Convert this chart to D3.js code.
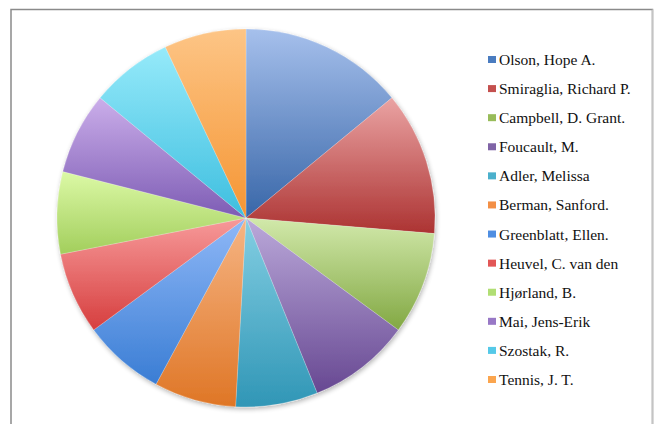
<!DOCTYPE html>
<html>
<head>
<meta charset="utf-8">
<script src="https://cdn.jsdelivr.net/npm/d3@7"></script>
<style>
  body { margin: 0; background: #fff; }
  svg { display: block; }
  .key text { font-family: "Liberation Serif", "Times New Roman", serif; }
</style>
</head>
<body>
<div class="chart"></div>
<script>
// data
var authors = ["Olson, Hope A.", "Smiraglia, Richard P.", "Campbell, D. Grant.", "Foucault, M.",
               "Adler, Melissa", "Berman, Sanford.", "Greenblatt, Ellen.", "Heuvel, C. van den",
               "Hjørland, B.", "Mai, Jens-Erik", "Szostak, R.", "Tennis, J. T."];
var counts = [8, 7, 5, 5, 4, 4, 4, 4, 4, 4, 4, 4];

// light (top) and dark (bottom) shade for each slice
var lightShades = ["#a6c0ec", "#eaa3a3", "#d2e9ab", "#bba9da", "#84cfe3", "#f6b584",
                   "#8fb8f7", "#f79a9a", "#dcf9a6", "#cbaeea", "#96eafa", "#fdc586"];
var darkShades  = ["#3866a8", "#ac3332", "#82a843", "#674892", "#3096b6", "#df7626",
                   "#3a7dd4", "#d63e3e", "#a2ce5c", "#7d5cb4", "#3dbedf", "#f59533"];
var keyColors   = ["#4a7cc0", "#c4504e", "#98bc5a", "#8064a6", "#4bb0cc", "#f38f45",
                   "#4f8ee2", "#e25757", "#b1de74", "#9878c6", "#55c9e8", "#fba54e"];

var width = 654, height = 424;
var cx = 246, cy = 218, radius = 189;

var svg = d3.select(".chart")
            .append("svg")
            .attr("width", width)
            .attr("height", height);

var defs = svg.append("defs");

// one vertical gradient per slice, light at the top
authors.forEach(function(name, i) {
  var grad = defs.append("linearGradient")
                 .attr("id", "slice-" + i)
                 .attr("x1", "0%").attr("y1", "0%")
                 .attr("x2", "0%").attr("y2", "100%");
  grad.append("stop").attr("offset", "0%").attr("stop-color", lightShades[i]);
  grad.append("stop").attr("offset", "100%").attr("stop-color", darkShades[i]);
});

// soft shadow round the pie
var shadow = defs.append("filter")
                 .attr("id", "soft-shadow")
                 .attr("x", "-10%").attr("y", "-10%")
                 .attr("width", "120%").attr("height", "120%");
shadow.append("feGaussianBlur").attr("in", "SourceAlpha").attr("stdDeviation", 2.5);
shadow.append("feOffset").attr("dx", 1).attr("dy", 2).attr("result", "blur");
shadow.append("feComponentTransfer").append("feFuncA").attr("type", "linear").attr("slope", 0.3);
var merge = shadow.append("feMerge");
merge.append("feMergeNode");
merge.append("feMergeNode").attr("in", "SourceGraphic");

// chart frame
svg.append("rect")
   .attr("x", 11).attr("y", 9.5)
   .attr("width", 641.5).attr("height", 430)
   .attr("fill", "#fff")
   .attr("stroke", "#8a8a8a")
   .attr("stroke-width", 1.5);
svg.append("line")
   .attr("x1", 652.5).attr("x2", 652.5)
   .attr("y1", 9.5).attr("y2", height)
   .attr("stroke", "#c4c4c4")
   .attr("stroke-width", 1.5);

var pie = d3.pie().sort(null).value(function(d) { return d; });
var arc = d3.arc().innerRadius(0).outerRadius(radius);

var pieGroup = svg.append("g")
                  .attr("transform", "translate(" + cx + "," + cy + ")")
                  .attr("filter", "url(#soft-shadow)");

pieGroup.selectAll("path")
        .data(pie(counts))
        .enter()
        .append("path")
        .attr("d", arc)
        .attr("fill", function(d, i) { return "url(#slice-" + i + ")"; })
        .attr("stroke", "rgba(255,255,255,0.35)")
        .attr("stroke-width", 0.6);

// legend
var legendY = d3.scalePoint().domain(authors).range([60, 380]);

var legend = svg.append("g").attr("class", "key").selectAll("g")
                .data(authors)
                .enter()
                .append("g")
                .attr("transform", function(d) { return "translate(488," + legendY(d) + ")"; });

legend.append("rect")
      .attr("x", 0).attr("y", -4)
      .attr("width", 8).attr("height", 7)
      .attr("fill", function(d, i) { return keyColors[i]; });

legend.append("text")
      .attr("x", 11).attr("y", 5)
      .style("font-size", "15.5px")
      .attr("fill", "#111")
      .text(function(d) { return d; });
</script>
</body>
</html>
